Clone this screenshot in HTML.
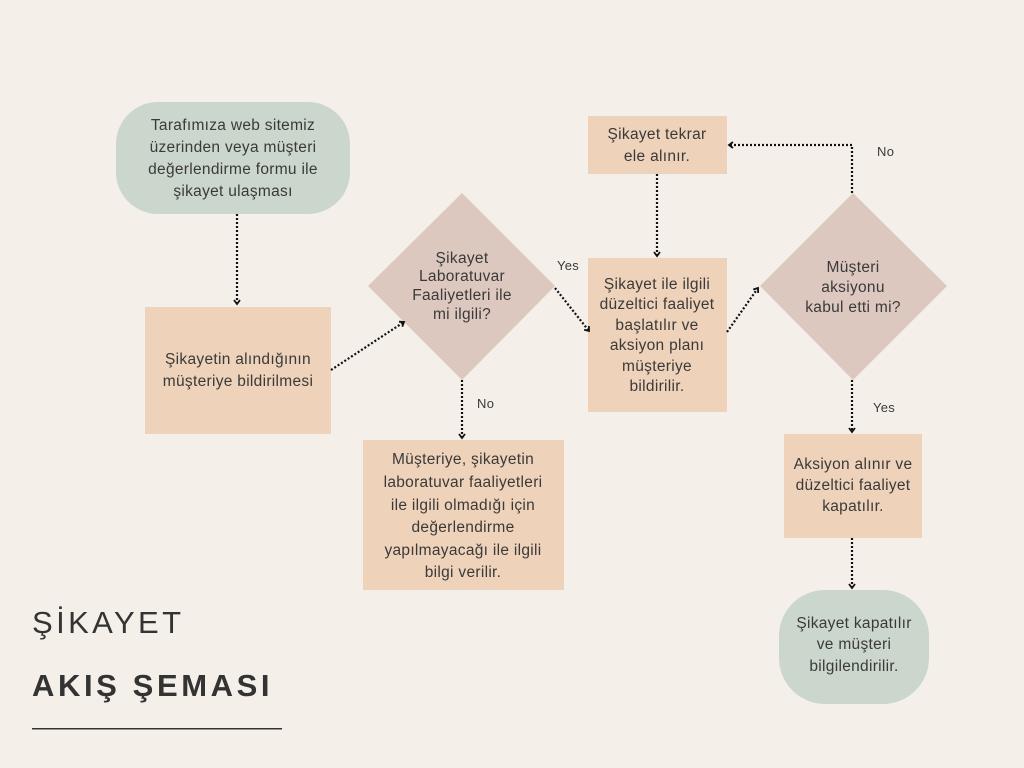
<!DOCTYPE html>
<html><head><meta charset="utf-8"><style>
html,body{margin:0;padding:0;background:#f5efea}
svg{display:block}
text{font-family:"Liberation Sans",sans-serif;fill:#3a3a3a;font-size:15.5px;letter-spacing:0.3px}
.l{font-size:13px}
</style></head><body>
<svg width="1024" height="768" viewBox="0 0 1024 768">
<defs><marker id="a" markerWidth="8" markerHeight="8" refX="5" refY="4" orient="auto" markerUnits="userSpaceOnUse"><path d="M1,1 L5,4 L1,7" fill="none" stroke="#111" stroke-width="1.8"/></marker></defs>
<rect width="1024" height="768" fill="#f5efea"/>
<rect x="116" y="102" width="234" height="112" rx="42" fill="#cbd6cc"/>
<rect x="145" y="307" width="186" height="127" fill="#eed2ba"/>
<polygon points="462,193 555,286 462,380 368,286" fill="#ddc8bf"/>
<rect x="363" y="440" width="201" height="150" fill="#eed2ba"/>
<rect x="588" y="116" width="139" height="58" fill="#eed2ba"/>
<rect x="588" y="258" width="139" height="154" fill="#eed2ba"/>
<polygon points="853,193 947,286 853,380 760,286" fill="#ddc8bf"/>
<rect x="784" y="434" width="138" height="104" fill="#eed2ba"/>
<rect x="779" y="590" width="150" height="114" rx="46" fill="#cbd6cc"/>
<g fill="none" stroke="#111" stroke-width="2.2" stroke-dasharray="2,2" marker-end="url(#a)">
<path d="M237,214 V304"/>
<path d="M331,370 L404,322"/>
<path d="M462,380 V438"/>
<path d="M555,288 L589,331"/>
<path d="M727,332 L758,288"/>
<path d="M657,174 V256"/>
<path d="M852,193 V145 H729"/>
<path d="M852,380 V432"/>
<path d="M852,538 V588"/>
</g>
<g text-anchor="middle">
<text x="233" y="130">Tarafımıza web sitemiz</text>
<text x="233" y="152">üzerinden veya müşteri</text>
<text x="233" y="174">değerlendirme formu ile</text>
<text x="233" y="196">şikayet ulaşması</text>
<text x="238" y="364">Şikayetin alındığının</text>
<text x="238" y="386">müşteriye bildirilmesi</text>
<text x="462" y="263">Şikayet</text>
<text x="462" y="281">Laboratuvar</text>
<text x="462" y="300">Faaliyetleri ile</text>
<text x="462" y="319">mi ilgili?</text>
<text x="463" y="464">Müşteriye, şikayetin</text>
<text x="463" y="487">laboratuvar faaliyetleri</text>
<text x="463" y="510">ile ilgili olmadığı için</text>
<text x="463" y="532">değerlendirme</text>
<text x="463" y="555">yapılmayacağı ile ilgili</text>
<text x="463" y="577">bilgi verilir.</text>
<text x="657" y="139">Şikayet tekrar</text>
<text x="657" y="161">ele alınır.</text>
<text x="657" y="289">Şikayet ile ilgili</text>
<text x="657" y="309">düzeltici faaliyet</text>
<text x="657" y="330">başlatılır ve</text>
<text x="657" y="350">aksiyon planı</text>
<text x="657" y="371">müşteriye</text>
<text x="657" y="391">bildirilir.</text>
<text x="853" y="272">Müşteri</text>
<text x="853" y="292">aksiyonu</text>
<text x="853" y="312">kabul etti mi?</text>
<text x="853" y="469">Aksiyon alınır ve</text>
<text x="853" y="490">düzeltici faaliyet</text>
<text x="853" y="511">kapatılır.</text>
<text x="854" y="628">Şikayet kapatılır</text>
<text x="854" y="649">ve müşteri</text>
<text x="854" y="671">bilgilendirilir.</text>
</g>
<text class="l" x="557" y="270">Yes</text>
<text class="l" x="477" y="408">No</text>
<text class="l" x="877" y="156">No</text>
<text class="l" x="873" y="412">Yes</text>
<text x="32" y="633" style="font-size:31px;letter-spacing:3.4px;fill:#333">ŞİKAYET</text>
<text x="32" y="696" style="font-size:31px;font-weight:bold;letter-spacing:3.6px;fill:#333">AKIŞ ŞEMASI</text>
<rect x="32" y="728" width="250" height="1.5" fill="#333"/>
</svg>
</body></html>
